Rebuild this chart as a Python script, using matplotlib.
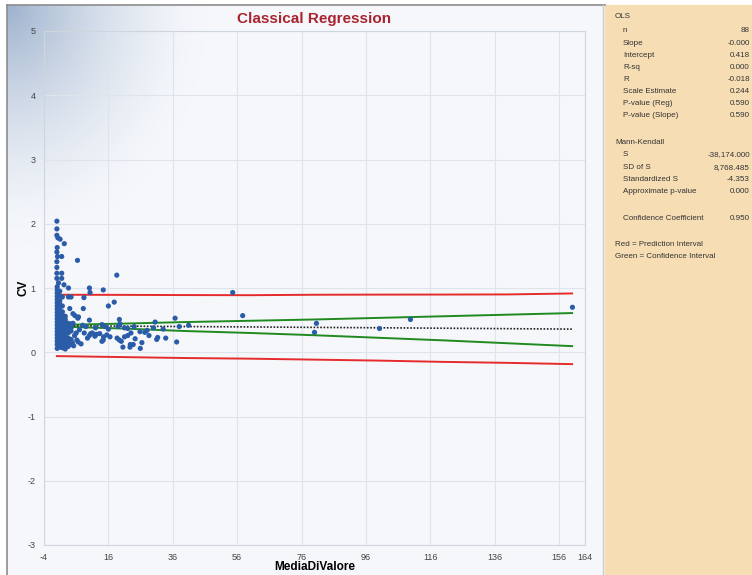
from matplotlib import pyplot as plt
from matplotlib.patches import Rectangle
from matplotlib.lines import Line2D
import numpy as np

plt.rcParams['font.family'] = ['Liberation Sans', 'DejaVu Sans']
plt.rcParams['axes.unicode_minus'] = False

# punti (MediaDiValore, CV)
mv = [0.0, 0.0, 0.0, 0.3, 1.0, 2.3, 0.1, 0.0, 0.2, 1.5, 0.0, 0.0, 0.0, 1.5, 0.0, 1.5, 0.5, 2.2,
      0.1, 0.1, 0.1, 0.1, 0.1, 0.1, 0.1, 0.1, 0.1, 0.1, 0.1, 0.1, 0.1, 0.1, 0.1, 0.1, 0.1, 0.1, 0.1, 0.1,
      0.9, 0.9, 0.9, 0.9, 0.9, 0.9, 0.9, 0.9, 0.9, 0.9, 0.9, 0.9, 0.9, 0.9, 0.9, 0.9, 0.9,
      1.7, 1.7, 1.7, 1.7, 1.7, 1.7, 1.7, 1.7, 1.7, 1.7, 1.7, 1.7, 1.7, 1.7,
      2.6, 2.6, 2.6, 2.6, 2.6, 2.6, 2.6, 2.6, 2.6, 2.6, 2.6,
      3.5, 3.5, 3.5, 3.5, 3.5, 3.5, 3.5,
      4.4, 4.4, 4.4, 4.4, 4.4,
      5.2, 5.5, 6.0, 5.0, 4.8,
      6.4, 18.6, 3.6, 10.1, 10.3, 14.4, 3.6, 4.4, 8.4, 16.0, 17.8, 4.0, 8.2, 5.0, 5.6, 6.7,
      10.1, 6.5, 19.4, 30.5, 36.7, 54.6, 57.7, 40.9, 38.0, 80.6, 80.0, 100.2, 109.8, 160.1,
      6.2, 6.6, 10.1, 10.5, 11.0, 12.3, 13.3, 11.8, 14.4, 14.0, 14.5, 15.5, 16.5, 19.4, 18.7,
      20.0, 21.0, 22.0, 23.0, 22.8, 23.7, 24.3, 26.4, 28.6, 31.0, 31.3, 33.8, 37.2, 25.8, 27.3,
      21.0, 22.0, 28.0, 14.0, 15.0, 16.0, 19.0, 19.6, 24.0, 30.0, 33.0, 12.0, 8.0, 9.0, 7.0,
      8.5, 9.5, 7.5, 20.5, 22.7, 25.9]
cv = [2.04, 1.92, 1.82, 1.78, 1.76, 1.69, 1.63, 1.56, 1.49, 1.49, 1.41, 1.32, 1.23, 1.23, 1.15, 1.15, 1.08, 1.05,
      0.06, 0.12, 0.17, 0.22, 0.27, 0.32, 0.37, 0.42, 0.47, 0.52, 0.57, 0.62, 0.67, 0.72, 0.77, 0.82, 0.87, 0.92, 0.97, 1.02,
      0.08, 0.14, 0.19, 0.24, 0.29, 0.34, 0.39, 0.44, 0.49, 0.54, 0.59, 0.64, 0.70, 0.75, 0.80, 0.88, 0.95,
      0.07, 0.13, 0.18, 0.23, 0.28, 0.33, 0.38, 0.43, 0.48, 0.53, 0.58, 0.63, 0.72, 0.86,
      0.05, 0.11, 0.16, 0.21, 0.26, 0.31, 0.36, 0.41, 0.46, 0.51, 0.56,
      0.09, 0.15, 0.22, 0.30, 0.35, 0.40, 0.45,
      0.12, 0.20, 0.33, 0.44, 0.38,
      0.10, 0.26, 0.30, 0.45, 0.15,
      1.43, 1.20, 1.00, 1.00, 0.93, 0.97, 0.86, 0.86, 0.85, 0.72, 0.78, 0.68, 0.68, 0.60, 0.57, 0.55,
      0.50, 0.53, 0.51, 0.47, 0.53, 0.93, 0.57, 0.42, 0.40, 0.45, 0.31, 0.37, 0.51, 0.70,
      0.19, 0.16, 0.26, 0.29, 0.30, 0.28, 0.29, 0.25, 0.19, 0.17, 0.24, 0.27, 0.24, 0.19, 0.22,
      0.17, 0.24, 0.26, 0.30, 0.12, 0.12, 0.21, 0.15, 0.26, 0.20, 0.23, 0.22, 0.16, 0.32, 0.31,
      0.38, 0.37, 0.34, 0.43, 0.40, 0.36, 0.40, 0.44, 0.40, 0.38, 0.36, 0.38, 0.42, 0.40, 0.35,
      0.30, 0.22, 0.13, 0.08, 0.08, 0.06]

# retta OLS e intervalli
x_fit = [0, 20, 40, 60, 80, 100, 120, 140, 160]
ols = [0.414, 0.407, 0.400, 0.394, 0.387, 0.381, 0.374, 0.367, 0.360]
ci_hi = [0.425, 0.445, 0.470, 0.490, 0.510, 0.535, 0.560, 0.585, 0.610]
ci_lo = [0.400, 0.370, 0.330, 0.300, 0.265, 0.225, 0.185, 0.140, 0.095]
pi_hi = [0.895, 0.893, 0.890, 0.888, 0.895, 0.897, 0.898, 0.900, 0.915]
pi_lo = [-0.060, -0.075, -0.090, -0.100, -0.115, -0.130, -0.150, -0.165, -0.185]

xticks = [-4, 16, 36, 56, 76, 96, 116, 136, 156, 164]
yticks = [-3, -2, -1, 0, 1, 2, 3, 4, 5]

# pannello statistiche
stat_labels = ["n", "Slope", "Intercept", "R-sq", "R", "Scale Estimate", "P-value (Reg)", "P-value (Slope)"]
stat_values = ["88", "-0.000", "0.418", "0.000", "-0.018", "0.244", "0.590", "0.590"]
mk_labels = ["S", "SD of S", "Standardized S", "Approximate p-value"]
mk_values = ["-38,174.000", "8,768.485", "-4.353", "0.000"]

W, H = 752, 575
fig = plt.figure(figsize=(W / 100, H / 100), dpi=100)
fig.patch.set_facecolor('white')

# sfondo sfumato del grafico
gw, gh = 598, 570
xx, yy = np.meshgrid(np.arange(gw), np.arange(gh))
d = np.sqrt((xx / 200.0) ** 2 + (yy / 240.0) ** 2)
t = np.clip(1 - d, 0, 1) ** 1.6
base = np.array([245, 247, 251]) / 255.0
dark = np.array([158, 178, 205]) / 255.0
img = base * (1 - t[..., None]) + dark * t[..., None]
bg = fig.add_axes([7 / W, 0, gw / W, gh / H], zorder=0)
bg.imshow(img, aspect='auto')
bg.axis('off')

fig.add_artist(Line2D([7 / W, 7 / W], [0, 1 - 5 / H], color='#8c8c8c', lw=1.2))
fig.add_artist(Line2D([7 / W, 605 / W], [1 - 5 / H, 1 - 5 / H], color='#8c8c8c', lw=1.2))
fig.add_artist(Line2D([603 / W, 603 / W], [0, 1 - 5 / H], color='#c8ccd2', lw=1.0))
fig.add_artist(Rectangle((605 / W, 0), 147 / W, 1 - 5 / H, transform=fig.transFigure,
                         color='#F6DDB4', zorder=1))

ax = fig.add_axes([44 / W, 1 - 545 / H, (585 - 44) / W, (545 - 31) / H], zorder=2)
ax.set_facecolor('none')
ax.plot(x_fit, pi_hi, color='#e52b2b', lw=1.4, zorder=3)
ax.plot(x_fit, pi_lo, color='#e52b2b', lw=1.4, zorder=3)
ax.plot(x_fit, ci_hi, color='#1f8a1f', lw=1.4, zorder=3)
ax.plot(x_fit, ci_lo, color='#1f8a1f', lw=1.4, zorder=3)
ax.plot(x_fit, ols, color='#222222', lw=1.2, ls=(0, (1, 1)), zorder=3)
ax.scatter(mv, cv, s=14, color='#2a5ca8', edgecolors='none', zorder=4)

ax.set_xlim(-4, 164)
ax.set_ylim(-3, 5)
ax.set_xticks(xticks)
ax.set_yticks(yticks)
ax.tick_params(length=0, labelsize=6.5, labelcolor='#444444', pad=6)
ax.grid(True, color='#dfe4ea', lw=0.8)
ax.set_axisbelow(True)
for s in ax.spines.values():
    s.set_color('#cfd5dc')
    s.set_linewidth(0.8)

ax.set_xlabel("MediaDiValore", fontsize=8.5, fontweight='bold', labelpad=-1)
ax.set_ylabel("CV", fontsize=8.5, fontweight='bold', labelpad=-1.5)
fig.text(314 / W, 1 - 19 / H, "Classical Regression", ha='center', va='center',
         fontsize=11, fontweight='bold', color='#a8232e')

# testo del pannello a destra
fs = 5.8
col = '#333333'
fig.text(615 / W, 1 - 17 / H, "OLS", fontsize=fs, color=col, va='center')
for i, (lab, val) in enumerate(zip(stat_labels, stat_values)):
    y = 1 - (31 + 12.1 * i) / H
    fig.text(623 / W, y, lab, fontsize=fs, color=col, va='center')
    fig.text(750 / W, y, val, fontsize=fs, color=col, va='center', ha='right')
fig.text(615 / W, 1 - 143 / H, "Mann-Kendall", fontsize=fs, color=col, va='center')
for i, (lab, val) in enumerate(zip(mk_labels, mk_values)):
    y = 1 - (155 + 12.1 * i) / H
    fig.text(623 / W, y, lab, fontsize=fs, color=col, va='center')
    fig.text(750 / W, y, val, fontsize=fs, color=col, va='center', ha='right')
fig.text(623 / W, 1 - 218 / H, "Confidence Coefficient", fontsize=fs, color=col, va='center')
fig.text(750 / W, 1 - 218 / H, "0.950", fontsize=fs, color=col, va='center', ha='right')
fig.text(615 / W, 1 - 244 / H, "Red = Prediction Interval", fontsize=fs, color=col, va='center')
fig.text(615 / W, 1 - 257 / H, "Green = Confidence Interval", fontsize=fs, color=col, va='center')

fig.savefig("out.png", dpi=100)
